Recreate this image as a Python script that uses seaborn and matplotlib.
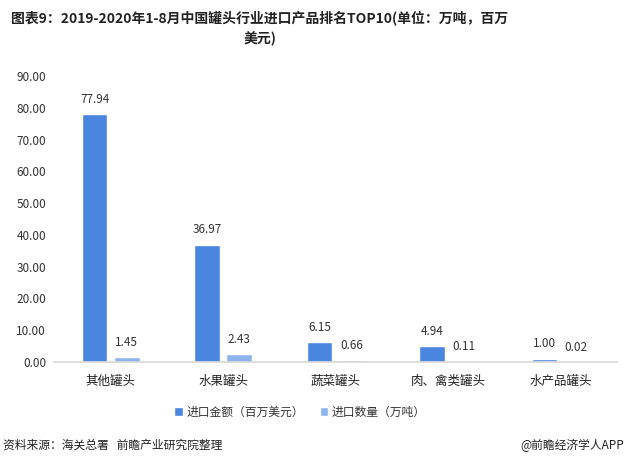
import matplotlib
matplotlib.use("Agg")
import matplotlib.pyplot as plt
import seaborn as sns
import pandas as pd

categories = ["其他罐头", "水果罐头", "蔬菜罐头", "肉、禽类罐头", "水产品罐头"]
amount = [77.94, 36.97, 6.15, 4.94, 1.00]
quantity = [1.45, 2.43, 0.66, 0.11, 0.02]
series_names = ["进口金额（百万美元）", "进口数量（万吨）"]
y_ticks = [0, 10, 20, 30, 40, 50, 60, 70, 80, 90]

sns.set_theme(style="white")
plt.rcParams['font.family'] = ['Noto Sans CJK SC', 'DejaVu Sans']

df = pd.DataFrame({
    "cat": categories * 2,
    "val": amount + quantity,
    "series": [series_names[0]] * len(categories) + [series_names[1]] * len(categories),
})

fig = plt.figure(figsize=(6.26, 4.68), dpi=100)
ax = fig.add_axes([0.087, 0.2265, 0.898, 0.611])
palette = {series_names[0]: "#4A86E0", series_names[1]: "#8DB4EA"}
sns.barplot(data=df, x="cat", y="val", hue="series", palette=palette,
            width=0.57, gap=0.2, ax=ax, saturation=1)

for cont in ax.containers:
    ax.bar_label(cont, labels=[f"{v:.2f}" for v in cont.datavalues],
                 padding=6, fontsize=8.5, color="#333333")

ax.set_ylim(0, 90)
ax.set_yticks(y_ticks)
ax.set_yticklabels([f"{v:.2f}" for v in y_ticks], fontsize=8.5, color="#333333")
ax.tick_params(axis="x", labelsize=9, colors="#222222", length=0, pad=9)
ax.tick_params(axis="y", length=0, pad=6)
ax.set_xlabel("")
ax.set_ylabel("")
for s in ["top", "right", "left"]:
    ax.spines[s].set_visible(False)
ax.spines["bottom"].set_color("#d9d9d9")
ax.set_xlim(-0.5, len(categories) - 0.5)

leg = ax.legend(loc="upper center", bbox_to_anchor=(0.437, -0.115), ncol=2, frameon=False,
                fontsize=8.5, handlelength=0.7, handleheight=0.7, handletextpad=0.3,
                columnspacing=1.4)
for t in leg.get_texts():
    t.set_color("#333333")

fig.text(0.415, 0.962, "图表9：2019-2020年1-8月中国罐头行业进口产品排名TOP10(单位：万吨，百万",
         ha="center", va="center", fontsize=10, fontweight="bold", color="#222222")
fig.text(0.415, 0.918, "美元)", ha="center", va="center", fontsize=10,
         fontweight="bold", color="#222222")
fig.text(0.005, 0.048, "资料来源：海关总署   前瞻产业研究院整理", ha="left", va="center",
         fontsize=8.5, color="#222222")
fig.text(0.997, 0.048, "@前瞻经济学人APP", ha="right", va="center",
         fontsize=8.5, color="#222222")

fig.savefig("out.png", dpi=100)
